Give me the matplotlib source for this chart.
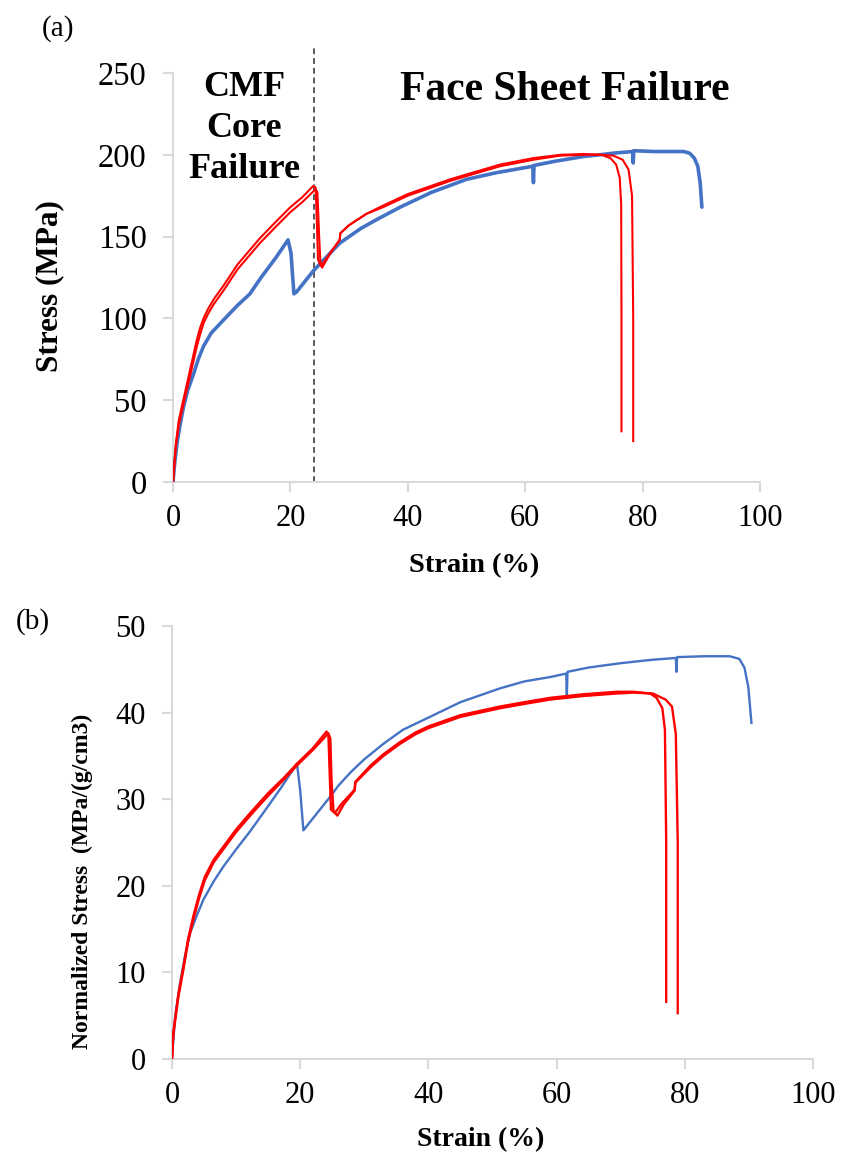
import matplotlib
matplotlib.use("Agg")
import matplotlib.pyplot as plt

plt.rcParams['font.family'] = ['Liberation Serif', 'DejaVu Serif']

BLUE = '#4472C4'
RED = '#FF0000'
GRID = '#D9D9D9'

# ---- (a) engineering stress vs strain ----
blue_a_x = [0, 0.3, 0.7, 1.2, 1.8, 2.5, 3.5, 4.3, 5.2, 6.5, 8.6, 11, 13.1, 15, 17.5, 19.6,
            20.1, 20.6, 21, 23.9, 26, 28.4, 32, 35, 38.7, 44, 50, 55, 61.3, 61.4, 61.5, 65,
            70, 72.7, 75, 78.3, 78.4, 78.5, 82, 87, 88, 88.8, 89.4, 89.8, 90.1]
blue_a_y = [0, 12, 24, 35, 46, 56, 66, 75, 83, 91, 99, 108, 115, 125, 137, 148,
            140, 115, 116, 129, 137, 146, 155, 161, 168, 177, 185, 189, 193, 183, 193.5, 196,
            199, 200, 201, 202, 195, 202.5, 202, 202, 201, 198, 193, 183, 168]

red1_a_x = [0, 0.5, 1, 2, 3, 4, 4.6, 5.2, 6, 7, 8.6, 11, 14.8, 17.5, 20, 22, 23.9, 24.3, 24.5,
            24.7, 25.2, 27, 28.4, 28.5, 30, 33, 35.8, 40, 47.2, 50, 55.7, 61.4, 66, 70, 73,
            74.5, 75.5, 76.1, 76.35, 76.4, 76.4]
red1_a_y = [0, 24, 38, 54, 70, 86, 94, 100, 106, 112, 120, 133, 149, 159, 168, 174, 181, 180,
            160, 136, 132, 141, 148, 152, 157, 164, 169, 176, 185, 188, 194, 198, 200, 200.5,
            200, 198, 194, 186, 170, 100, 31]

red2_a_x = [0, 0.5, 1, 2, 3, 4, 4.6, 5.2, 6, 7, 8.6, 11, 14.8, 17.5, 20, 22, 24.3, 24.6, 24.9,
            25.1, 25.4, 27, 28.4, 28.5, 30, 33, 35.8, 40, 47.2, 50, 55.7, 61.4, 66, 70, 73,
            75, 76.6, 77.6, 78.2, 78.4, 78.4]
red2_a_y = [0, 22, 35, 51, 66, 82, 90, 97, 103, 109, 117, 130, 146, 156, 165, 171, 179, 177,
            150, 135, 131, 141, 148, 152, 157, 164, 168, 175, 184, 187, 193, 197, 199.5, 200,
            200, 199.5, 197, 191, 175, 100, 25]

# ---- (b) density-normalised stress vs strain ----
blue_b_x = [0, 0.5, 1.25, 2, 2.8, 4, 4.9, 6.5, 8, 10, 12.2, 15, 17, 19.5, 20, 20.5, 24.7,
            26, 28, 30, 33, 36, 40.8, 45, 51.2, 55, 59, 61.5, 61.6, 61.7, 65, 70, 75, 78.6,
            78.7, 78.8, 83, 87, 88.5, 89.3, 89.9, 90.4]
blue_b_y = [0, 5, 8.7, 11.8, 14.5, 16.8, 18.4, 20.5, 22.2, 24.2, 26.3, 29.2, 31.3, 34.1, 31,
            26.4, 30.3, 31.6, 33.2, 34.6, 36.4, 38, 39.7, 41.2, 42.8, 43.6, 44.1, 44.5, 42,
            44.7, 45.2, 45.7, 46.1, 46.3, 44.7, 46.4, 46.5, 46.5, 46.2, 45.2, 43, 38.8]

red1_b_x = [0, 0.2, 1, 1.8, 2.5, 3.3, 4.2, 5.1, 6.5, 8, 10, 12.2, 15, 17.5, 19.5, 22, 24.1,
            24.4, 24.6, 24.8, 25.4, 26.5, 28.5, 28.6, 31, 33, 35.6, 38, 40, 45, 51.2, 55,
            59, 64, 69.4, 72, 74.6, 75.6, 76.5, 76.9, 77.1, 77.1]
red1_b_y = [0, 3, 7.5, 10.7, 13.8, 16.4, 18.9, 21, 23, 24.5, 26.5, 28.4, 30.7, 32.5, 34.1,
            35.9, 37.8, 37.5, 33, 28.8, 28.4, 29.5, 31.1, 32, 33.9, 35.2, 36.6, 37.7, 38.4,
            39.7, 40.7, 41.2, 41.7, 42.1, 42.4, 42.4, 42.2, 41.7, 40.5, 38, 25, 6.6]

red2_b_x = [0, 0.2, 1, 1.8, 2.5, 3.3, 4.2, 5.1, 6.5, 8, 10, 12.2, 15, 17.5, 19.5, 22, 24.4,
            24.7, 24.9, 25.2, 25.8, 26.8, 28.5, 28.6, 31, 33, 35.6, 38, 40, 45, 51.2, 55,
            59, 64, 69.4, 72, 75, 77, 78, 78.6, 78.9, 78.9]
red2_b_y = [0, 2.8, 7.2, 10.4, 13.5, 16, 18.5, 20.6, 22.7, 24.2, 26.2, 28.1, 30.4, 32.3, 33.9,
            35.7, 37.6, 37, 32, 28.6, 28.1, 29.4, 31, 31.9, 33.7, 35, 36.4, 37.5, 38.2,
            39.5, 40.5, 41, 41.5, 41.9, 42.2, 42.3, 42.2, 41.5, 40.7, 37.5, 25, 5.3]

x_ticks = [0, 20, 40, 60, 80, 100]
a_y_ticks = [0, 50, 100, 150, 200, 250]
b_y_ticks = [0, 10, 20, 30, 40, 50]
core_boundary = 24

fig = plt.figure(figsize=(8.41, 11.57), dpi=100)
ax_a = fig.add_axes([0.2057, 0.5834, 0.698, 0.3535])
ax_b = fig.add_axes([0.2045, 0.0847, 0.7622, 0.3743])


def style_axes(ax, yticks, xsize, ysize):
    for side in ('top', 'right'):
        ax.spines[side].set_visible(False)
    for side in ('left', 'bottom'):
        ax.spines[side].set_color(GRID)
        ax.spines[side].set_linewidth(1.5)
    ax.set_xlim(0, 100)
    ax.set_ylim(yticks[0], yticks[-1])
    ax.set_xticks(x_ticks)
    ax.set_yticks(yticks)
    ax.tick_params(direction='out', length=7, width=1.5, color=GRID)
    ax.tick_params(axis='x', labelsize=xsize, pad=9)
    ax.tick_params(axis='y', labelsize=ysize, pad=12)


# panel (a)
ax_a.plot(blue_a_x, blue_a_y, color=BLUE, lw=2.6, solid_capstyle='round', zorder=3)
ax_a.plot(red1_a_x, red1_a_y, color=RED, lw=1.5, zorder=4)
ax_a.plot(red2_a_x, red2_a_y, color=RED, lw=1.5, zorder=4)
ax_a.plot([core_boundary, core_boundary], [0, 267], color='#595959', lw=1.4,
          ls=(0, (3, 2)), clip_on=False, zorder=2)
style_axes(ax_a, a_y_ticks, 22, 23.5)
ax_a.set_xlabel('Strain (%)', fontsize=20.5, fontweight='bold', va='center')
ax_a.xaxis.set_label_coords(0.513, -0.205)
ax_a.set_ylabel('Stress (MPa)', fontsize=22.5, fontweight='bold', va='center')
ax_a.yaxis.set_label_coords(-0.2095, 0.48)
ax_a.text(12.1, 216, 'CMF\nCore\nFailure', ha='center', va='center', fontsize=26,
          fontweight='bold', linespacing=1.32)
ax_a.text(66.8, 239.6, 'Face Sheet Failure', ha='center', va='center', fontsize=30,
          fontweight='bold')
fig.text(0.069, 0.975, '(a)', fontsize=21, ha='center', va='center')

# panel (b)
ax_b.plot(blue_b_x, blue_b_y, color=BLUE, lw=1.7, zorder=3)
ax_b.plot(red1_b_x, red1_b_y, color=RED, lw=1.7, zorder=4)
ax_b.plot(red2_b_x, red2_b_y, color=RED, lw=1.7, zorder=4)
style_axes(ax_b, b_y_ticks, 22, 22)
ax_b.set_xlabel('Strain (%)', fontsize=20, fontweight='bold', va='center')
ax_b.xaxis.set_label_coords(0.482, -0.187)
ax_b.set_ylabel('Normalized Stress  (MPa/(g/cm3)', fontsize=17, fontweight='bold',
                va='center')
ax_b.yaxis.set_label_coords(-0.14, 0.41)
fig.text(0.039, 0.4624, '(b)', fontsize=21, ha='center', va='center')

fig.savefig('out.png', dpi=100)
